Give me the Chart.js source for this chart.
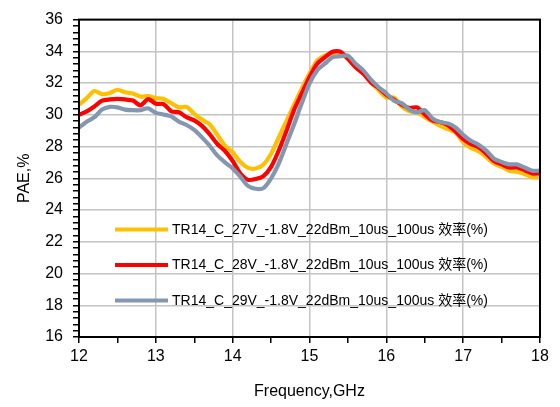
<!DOCTYPE html>
<html lang="en">
<head>
    <meta charset="UTF-8">
    <title>PAE vs Frequency</title>
    <script src="https://cdn.jsdelivr.net/npm/chart.js"></script>
    <style>
        html, body { margin: 0; padding: 0; background: #fff; }
        #wrap { width: 560px; height: 407px; }
    </style>
</head>
<body>
    <div id="wrap"><canvas id="paeChart" width="560" height="407"></canvas></div>

    <script>
        const freq = [
            12.0, 12.1, 12.2, 12.3, 12.4, 12.5, 12.6, 12.7, 12.8, 12.9,
            13.0, 13.1, 13.2, 13.3, 13.4, 13.5, 13.6, 13.7, 13.8, 13.9,
            14.0, 14.1, 14.2, 14.3, 14.4, 14.5, 14.6, 14.7, 14.8, 14.9,
            15.0, 15.1, 15.2, 15.3, 15.4, 15.5, 15.6, 15.7, 15.8, 15.9,
            16.0, 16.1, 16.2, 16.3, 16.4, 16.5, 16.6, 16.7, 16.8, 16.9,
            17.0, 17.1, 17.2, 17.3, 17.4, 17.5, 17.6, 17.7, 17.8, 17.9,
            18.0
        ];

        const pae27V = [
            30.64, 31.05, 31.5, 31.3, 31.38, 31.58, 31.42, 31.34, 31.15, 31.18,
            31.05, 31.0, 30.74, 30.47, 30.5, 30.06, 29.7, 29.4, 28.74, 28.05,
            27.65, 27.03, 26.66, 26.62, 26.87, 27.55, 28.58, 29.6, 30.64, 31.67,
            32.6, 33.42, 33.73, 33.9, 33.84, 33.53, 33.0, 32.6, 32.04, 31.55,
            31.09, 31.09, 30.53, 30.22, 30.16, 29.85, 29.57, 29.3, 29.1, 28.89,
            28.27, 27.92, 27.71, 27.34, 26.93, 26.72, 26.48, 26.41, 26.27, 26.06,
            26.06
        ];

        const pae28V = [
            30.0, 30.22, 30.53, 30.89, 30.97, 31.0, 30.97, 30.9, 30.6, 30.99,
            30.7, 30.68, 30.22, 30.16, 29.85, 29.65, 29.3, 28.78, 28.16, 27.72,
            27.09, 26.3, 25.9, 25.96, 26.14, 26.72, 27.75, 28.99, 30.33, 31.36,
            32.39, 33.22, 33.63, 33.98, 33.98, 33.53, 33.0, 32.6, 32.04, 31.69,
            31.26, 30.95, 30.64, 30.43, 30.47, 30.02, 29.65, 29.54, 29.34, 28.95,
            28.47, 28.16, 27.96, 27.55, 27.09, 26.88, 26.68, 26.68, 26.51, 26.31,
            26.31
        ];

        const pae29V = [
            29.2, 29.57, 29.85, 30.33, 30.5, 30.47, 30.33, 30.29, 30.29, 30.41,
            30.12, 30.02, 29.9, 29.57, 29.36, 29.05, 28.58, 28.06, 27.44, 27.0,
            26.62, 26.1, 25.52, 25.34, 25.38, 26.0, 26.93, 28.16, 29.4, 30.74,
            31.98, 32.8, 33.22, 33.63, 33.69, 33.73, 33.22, 32.8, 32.22, 31.74,
            31.36, 30.89, 30.74, 30.33, 30.16, 30.29, 29.77, 29.54, 29.46, 29.2,
            28.74, 28.37, 28.12, 27.75, 27.24, 27.03, 26.88, 26.88, 26.68, 26.48,
            26.48
        ];

        const seriesNames = [
            'TR14_C_27V_-1.8V_22dBm_10us_100us 效率(%)',
            'TR14_C_28V_-1.8V_22dBm_10us_100us 效率(%)',
            'TR14_C_29V_-1.8V_22dBm_10us_100us 效率(%)'
        ];
        const seriesColors = ['#FFC000', '#FF0000', '#8497B0'];

        const xTicks = [12, 13, 14, 15, 16, 17, 18];
        const yTicks = [16, 18, 20, 22, 24, 26, 28, 30, 32, 34, 36];

        const FONT = "'Liberation Sans', 'Noto Sans CJK SC', sans-serif";

        function isMajor(v, list) {
            return list.some(t => Math.abs(t - v) < 1e-6);
        }

        function toPoints(values) {
            return values.map((v, i) => ({ x: freq[i], y: v }));
        }

        // legend drawn inside the plot area, Excel style
        const innerLegend = {
            id: 'innerLegend',
            afterDraw(chart) {
                const ctx = chart.ctx;
                const rows = [229.5, 265, 300.5];
                ctx.save();
                ctx.font = "14px " + FONT;
                ctx.textBaseline = 'middle';
                ctx.fillStyle = '#000';
                chart.data.datasets.forEach((ds, i) => {
                    ctx.strokeStyle = ds.borderColor;
                    ctx.lineWidth = 4.2;
                    ctx.beginPath();
                    ctx.moveTo(115, rows[i]);
                    ctx.lineTo(168, rows[i]);
                    ctx.stroke();
                    ctx.fillText(ds.label, 172, rows[i] + 0.5);
                });
                ctx.restore();
            }
        };

        // black frame around the plot area
        const plotFrame = {
            id: 'plotFrame',
            afterDatasetsDraw(chart) {
                const a = chart.chartArea;
                const ctx = chart.ctx;
                ctx.save();
                ctx.strokeStyle = '#000';
                ctx.lineWidth = 2;
                ctx.strokeRect(a.left, a.top, a.right - a.left, a.bottom - a.top);
                ctx.restore();
            }
        };

        const datasets = [pae27V, pae28V, pae29V].map((vals, i) => ({
            label: seriesNames[i],
            data: toPoints(vals),
            borderColor: seriesColors[i],
            backgroundColor: seriesColors[i],
            borderWidth: 4.2,
            pointRadius: 0,
            tension: 0.25,
            order: 3 - i
        }));

        new Chart(document.getElementById('paeChart'), {
            type: 'line',
            data: { datasets: datasets },
            plugins: [plotFrame, innerLegend],
            options: {
                responsive: false,
                animation: false,
                layout: { padding: { left: 0, top: 13, right: 20, bottom: 0 } },
                plugins: {
                    legend: { display: false },
                    tooltip: { enabled: false }
                },
                scales: {
                    x: {
                        type: 'linear',
                        min: 12,
                        max: 18,
                        afterFit(scale) { scale.height = 70; },
                        ticks: {
                            stepSize: 0.5,
                            autoSkip: false,
                            maxRotation: 0,
                            padding: 4,
                            color: '#000',
                            font: { family: FONT, size: 16 },
                            callback: v => isMajor(v, xTicks) ? String(v) : ''
                        },
                        grid: {
                            color: c => (c.tick && isMajor(c.tick.value, xTicks)) ? '#c4c4c4' : 'rgba(0,0,0,0)',
                            lineWidth: 1.5,
                            drawTicks: true,
                            tickLength: 6,
                            tickColor: '#000',
                            tickWidth: 1.5
                        },
                        border: { color: '#000', width: 2 },
                        title: {
                            display: true,
                            text: 'Frequency,GHz',
                            color: '#000',
                            font: { family: FONT, size: 16 },
                            padding: { top: 0, bottom: 6 }
                        }
                    },
                    y: {
                        min: 16,
                        max: 36,
                        afterFit(scale) { scale.width = 79; },
                        ticks: {
                            stepSize: 0.4,
                            autoSkip: false,
                            padding: 10,
                            color: '#000',
                            font: { family: FONT, size: 16 },
                            callback: v => isMajor(v, yTicks) ? String(v) : ''
                        },
                        grid: {
                            color: c => (c.tick && isMajor(c.tick.value, yTicks)) ? '#c4c4c4' : 'rgba(0,0,0,0)',
                            lineWidth: 1.5,
                            drawTicks: true,
                            tickLength: 6,
                            tickColor: '#000',
                            tickWidth: 1.5
                        },
                        border: { color: '#000', width: 2 },
                        title: {
                            display: true,
                            text: 'PAE,%',
                            color: '#000',
                            font: { family: FONT, size: 16 },
                            padding: { top: 15, bottom: 0 }
                        }
                    }
                }
            }
        });
    </script>
</body>
</html>
